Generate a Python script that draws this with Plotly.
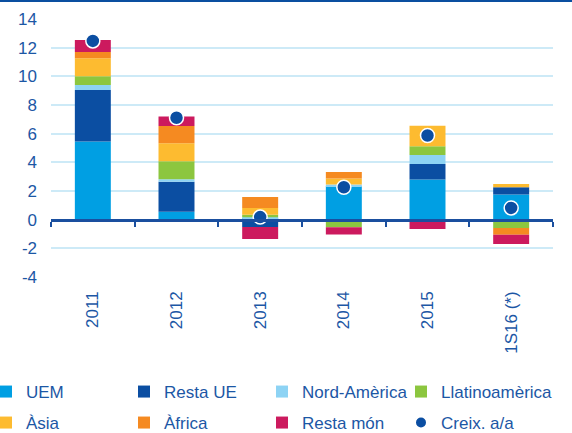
import plotly.graph_objects as go

categories = ["2011", "2012", "2013", "2014", "2015", "1S16 (*)"]
uem = [5.45, 0.56, 0.05, 2.33, 2.80, 1.75]
resta_ue = [3.59, 2.08, -0.51, 0.0, 1.09, 0.51]
nord_america = [0.35, 0.18, 0.12, 0.12, 0.63, 0.0]
llatinoamerica = [0.62, 1.26, 0.18, -0.53, 0.60, -0.58]
asia = [1.26, 1.26, 0.47, 0.42, 1.44, 0.23]
africa = [0.42, 1.19, 0.77, 0.46, 0.0, -0.47]
resta_mon = [0.84, 0.66, -0.84, -0.51, -0.65, -0.65]
creix = [12.47, 7.11, 0.18, 2.26, 5.87, 0.82]

y_ticks = [-4, -2, 0, 2, 4, 6, 8, 10, 12, 14]
y_tick_labels = ["-4", "-2", "0", "2", "4", "6", "8", "10", "12", "14"]

series = [
    ("UEM", uem, "#009fe3", "legend"),
    ("Resta UE", resta_ue, "#0b4ea2", "legend"),
    ("Nord-Amèrica", nord_america, "#8dd3f4", "legend3"),
    ("Llatinoamèrica", llatinoamerica, "#8cc63f", "legend5"),
    ("Àsia", asia, "#fdbb30", "legend2"),
    ("Àfrica", africa, "#f58a21", "legend2"),
    ("Resta món", resta_mon, "#cc1a5e", "legend4"),
]

TXT = "#1c57a5"
FONT = "Liberation Sans, Arial, sans-serif"

fig = go.Figure()
for name, vals, color, lg in series:
    fig.add_trace(go.Bar(
        x=categories, y=vals, name=name, legend=lg,
        marker=dict(color=color, line=dict(width=0)),
    ))

fig.add_trace(go.Scatter(
    x=categories, y=creix, name="Creix. a/a", mode="markers", legend="legend6",
    marker=dict(color="#0b4ea2", size=14, line=dict(color="white", width=1.5)),
))

# helper trace so the zero-line axis is drawn
fig.add_trace(go.Scatter(
    x=categories, y=[None] * len(categories), xaxis="x2", showlegend=False,
    hoverinfo="skip", mode="markers",
))

ymin, ymax = -4, 14
zero_pos = (0 - ymin) / (ymax - ymin)

L, R, T, B = 51, 19, 19, 156
W, H = 572, 433
pw = W - L - R
ph = H - T - B


def px_x(px):
    return (px - L) / pw


def px_y(px):
    return (T + ph - px) / ph


ROW1, ROW2 = 374, 405
COL1, COL3, COL4 = -14, 262, 401


def leg(x_px, y_px, ew):
    return dict(
        orientation="h", x=px_x(x_px), xanchor="left",
        y=px_y(y_px), yanchor="top",
        entrywidth=ew, entrywidthmode="pixels", itemsizing="constant",
        font=dict(size=17, color=TXT, family=FONT), bgcolor="rgba(0,0,0,0)",
    )


fig.update_layout(
    width=W, height=H,
    margin=dict(l=L, r=R, t=T, b=B, autoexpand=False),
    paper_bgcolor="white", plot_bgcolor="white",
    barmode="relative", bargap=0.57,
    font=dict(family=FONT, color=TXT, size=17),
    xaxis=dict(
        type="category", categoryorder="array", categoryarray=categories,
        range=[-0.5, len(categories) - 0.5],
        tickangle=-90, ticks="", showgrid=False, showline=False, zeroline=False,
        tickfont=dict(size=17, color=TXT, family=FONT), ticklabelstandoff=10,
    ),
    xaxis2=dict(
        type="category", categoryorder="array", categoryarray=categories,
        range=[-0.5, len(categories) - 0.5],
        overlaying="x", anchor="free", position=zero_pos,
        showline=True, linecolor="#1a4f9f", linewidth=3,
        ticks="outside", tickson="boundaries", ticklen=5, tickwidth=2, tickcolor="#1a4f9f",
        showticklabels=False, showgrid=False, zeroline=False,
    ),
    yaxis=dict(
        range=[ymin, ymax], tickvals=y_ticks, ticktext=y_tick_labels,
        showgrid=True, gridcolor="#cdeaf7", gridwidth=1.5, zeroline=False,
        showline=False, ticks="",
        tickfont=dict(size=17, color=TXT, family=FONT), ticklabelstandoff=13,
    ),
    legend=leg(COL1, ROW1, 93),
    legend2=leg(COL1, ROW2, 93),
    legend3=leg(COL3, ROW1, 0),
    legend4=leg(COL3, ROW2, 0),
    legend5=leg(COL4, ROW1, 0),
    legend6=leg(COL4, ROW2, 0),
    shapes=[dict(
        type="line", xref="paper", yref="paper",
        x0=-L / pw, x1=(W - L) / pw,
        y0=1 + (T - 1) / ph, y1=1 + (T - 1) / ph,
        line=dict(color="#0a4fa0", width=2),
    )],
    showlegend=True,
)

fig.write_html(
    "out.html",
    config={"displayModeBar": False},
    post_script="document.body.style.margin='0px';",
)
